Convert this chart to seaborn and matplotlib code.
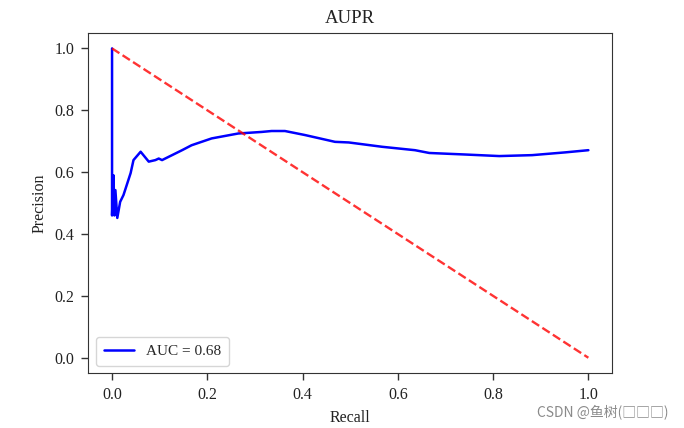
import matplotlib
matplotlib.use("Agg")
import matplotlib.pyplot as plt
import seaborn as sns
import pandas as pd

recall = [0.0, 0.0, 0.0, 0.0, 0.003, 0.005, 0.007, 0.011, 0.017, 0.024, 0.039, 0.045,
          0.060, 0.077, 0.091, 0.098, 0.105, 0.126, 0.147, 0.167, 0.209, 0.265, 0.314,
          0.335, 0.363, 0.405, 0.468, 0.497, 0.567, 0.636, 0.666, 0.742, 0.813, 0.882,
          0.952, 1.0]
precision = [1.0, 0.80, 0.75, 0.46, 0.59, 0.46, 0.542, 0.452, 0.504, 0.526, 0.597, 0.639,
             0.666, 0.634, 0.639, 0.644, 0.639, 0.655, 0.671, 0.687, 0.709, 0.725, 0.73,
             0.733, 0.733, 0.72, 0.698, 0.696, 0.682, 0.671, 0.662, 0.657, 0.652, 0.655,
             0.664, 0.671]
diag_x = [0.0, 1.0]
diag_y = [1.0, 0.0]
auc_label = "AUC = 0.68"
ticks = [0.0, 0.2, 0.4, 0.6, 0.8, 1.0]

sns.set_style("ticks")
plt.rcParams['font.family'] = ['Liberation Serif', 'DejaVu Serif']

df = pd.DataFrame({"Recall": recall, "Precision": precision})

fig = plt.figure(figsize=(6.84, 4.28), dpi=100)
ax = fig.add_axes([0.129, 0.128, 0.766, 0.795])
sns.lineplot(data=df, x="Recall", y="Precision", sort=False, estimator=None,
             color="blue", linewidth=1.8, label=auc_label, ax=ax)
sns.lineplot(x=diag_x, y=diag_y, color="red", linestyle="--", linewidth=1.7,
             alpha=0.8, ax=ax)
ax.set_xticks(ticks)
ax.set_yticks(ticks)
ax.tick_params(labelsize=11.5, direction="out", length=5, width=1, pad=5,
               color="#333333", labelcolor="#222222")
for s in ax.spines.values():
    s.set_color("#333333")
ax.set_xlabel("Recall", fontsize=11.5, labelpad=5, color="#222222")
ax.set_ylabel("Precision", fontsize=11.5, labelpad=5, color="#222222")
ax.set_title("AUPR", fontsize=13.5, pad=7, color="#222222")
ax.legend(loc="lower left", fontsize=11, borderpad=0.5)

fig.text(0.978, 0.038, "CSDN @鱼树(□□□)", ha="right", va="center", fontsize=10,
         color="#8a8a8a", family=["Noto Sans CJK SC", "DejaVu Sans"])

fig.savefig("out.png", dpi=100)
